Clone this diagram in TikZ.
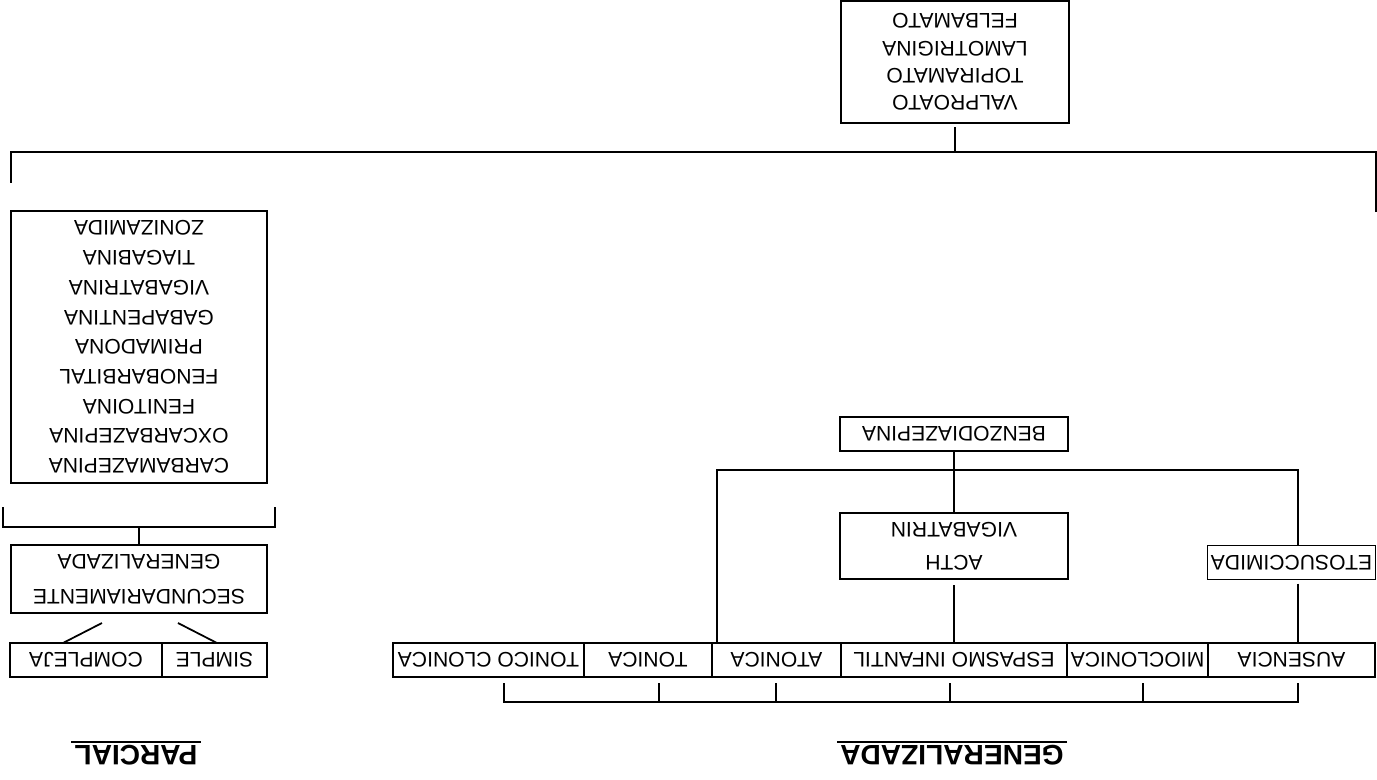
\documentclass[tikz,border=0pt]{standalone}
\usepackage{fontspec}
\setmainfont{Liberation Sans}
\usetikzlibrary{positioning}

\tikzset{
  caja/.style={draw,outer sep=0pt,inner sep=1pt,minimum height=0.68cm,
    align=center,font=\fontsize{12}{15}\selectfont},
  titulo/.style={inner sep=1.5pt,font=\fontsize{16}{19}\selectfont\bfseries}
}

\begin{document}
\begin{tikzpicture}[rotate=180,transform shape,line width=1pt]
  \useasboundingbox (0,0) rectangle (27.54,15.58);
  % titulos
  \node[titulo] (gen) at (8.5,15.11) {GENERALIZADA};
  \node[titulo] (par) at (24.82,15.11) {PARCIAL};
  \draw (gen.south west) -- (gen.south east);
  \draw (par.south west) -- (par.south east);
  % tipos de crisis
  \node[caja,minimum width=3.34cm] (aus) at (1.71,13.2) {AUSENCIA};
  \node[caja,minimum width=2.82cm,right=0pt of aus] (mio) {MIOCLONICA};
  \node[caja,minimum width=4.52cm,right=0pt of mio] (esp) {ESPASMO INFANTIL};
  \node[caja,minimum width=2.58cm,right=0pt of esp] (ato) {ATONICA};
  \node[caja,minimum width=2.56cm,right=0pt of ato] (ton) {TONICA};
  \node[caja,minimum width=3.82cm,right=0pt of ton] (tc) {TONICO CLONICA};
  \node[caja,minimum width=2.10cm] (simp) at (23.25,13.2) {SIMPLE};
  \node[caja,minimum width=3.04cm,right=0pt of simp] (comp) {COMPLEJA};
  \foreach \n/\dx in {aus/-0.13,mio/-0.11,esp/0.08,ato/0.01,ton/-0.22,tc/-0.31}
    \draw (\n.north) ++(\dx,0.12) -- ++(0,0.38) coordinate (t-\n);
  \draw[line cap=rect] (t-aus) -- (t-tc);
  % tratamiento de las generalizadas
  \node[caja,minimum width=3.36cm,inner sep=0.5pt] (eto) at (1.71,11.25) {ETOSUCCIMIDA};
  \node[caja,minimum width=4.56cm,minimum height=1.32cm,font=\fontsize{12}{18.8}\selectfont]
    (acth) at (8.46,10.92) {ACTH\\VIGABATRIN};
  \node[caja,minimum width=4.56cm] (benz) at (8.46,8.68) {BENZODIAZEPINA};
  \coordinate (bzl) at (1.58,9.4);
  \coordinate (bzr) at (13.2,9.4);
  \draw (eto.south -| bzl) -- (bzl) -- (bzr) -- (ato.south -| bzr);
  \draw (eto.north -| bzl) ++(0,0.08) -- (aus.south -| bzl);
  \draw (benz.north) -- (acth.south);
  \draw (acth.north) ++(0,0.12) -- (esp.south);
  % tratamiento de las parciales
  \node[caja,minimum width=5.12cm,minimum height=1.36cm,font=\fontsize{12}{19.9}\selectfont]
    (sec) at (24.76,11.58) {SECUNDARIAMENTE\\GENERALIZADA};
  \draw (simp.south) ++(-0.05,0) -- ++(0.78,-0.4);
  \draw (comp.south) ++(0.46,0) -- ++(-0.78,-0.4);
  \coordinate (pl) at (22.04,10.54);
  \coordinate (pr) at (27.48,10.54);
  \draw (pl) ++(0,-0.4) -- (pl) -- (pr) -- ++(0,-0.4);
  \draw (sec.south) -- (sec.south |- pl);
  \node[caja,minimum width=5.12cm,minimum height=5.44cm,font=\fontsize{12}{16.9}\selectfont]
    (parc) at (24.76,6.94) {CARBAMAZEPINA\\OXCARBAZEPINA\\FENITOINA\\FENOBARBITAL\\PRIMADONA\\
    GABAPENTINA\\VIGABATRINA\\TIAGABINA\\ZONIZAMIDA};
  % amplio espectro
  \node[caja,minimum width=4.56cm,minimum height=2.44cm,font=\fontsize{12}{15.6}\selectfont]
    (val) at (8.44,1.24) {VALPROATO\\TOPIRAMATO\\LAMOTRIGINA\\FELBAMATO};
  \coordinate (tl) at (0.02,3.04);
  \coordinate (tr) at (27.32,3.04);
  \draw (tl) ++(0,1.2) -- (tl) -- (tr) -- ++(0,0.62);
  \draw (val.north) ++(0,0.08) -- (val.north |- tl);
\end{tikzpicture}
\end{document}
